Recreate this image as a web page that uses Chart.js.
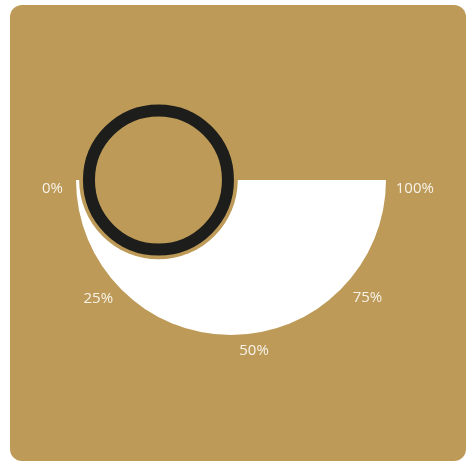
<!DOCTYPE html>
<html>
<head>
<meta charset="utf-8">
<script src="https://cdn.jsdelivr.net/npm/chart.js@4"></script>
<style>
	html, body { margin: 0; padding: 0; background: #fff; }
	#wrap { position: relative; width: 468px; height: 462px; overflow: hidden; }
	#card { position: absolute; left: 10px; top: 5px; width: 456px; height: 456px; background: #bd9a57; border-radius: 12px; }
	#chart { position: absolute; left: 0; top: 0; }
</style>
</head>
<body>
<div id="wrap">
	<div id="card"></div>
	<canvas id="chart" width="468" height="462"></canvas>
</div>
<script>
const gaugeMax = 100;
const gaugeValue = [0];
const tickValues = [0, 25, 50, 75, 100];
const tickLabels = ["0%", "25%", "50%", "75%", "100%"];

const gold = "#bd9a57";

// angle on the lower half: 0 at the left, max at the right
const valueAngle = (v) => Math.PI - (v / gaugeMax) * Math.PI;

const gaugeDecor = {
	id: "gaugeDecor",
	afterDatasetsDraw(chart, args, opts) {
		const arc = chart.getDatasetMeta(0).data[0];
		if (!arc) return;
		const {x, y, outerRadius} = arc.getProps(["x", "y", "outerRadius"], true);
		const ctx = chart.ctx;
		ctx.save();

		// pointer ring
		const a = valueAngle(gaugeValue[0]);
		const px = x + Math.cos(a) * outerRadius * opts.pointerDist;
		const py = y + Math.sin(a) * outerRadius * opts.pointerDist;
		ctx.fillStyle = gold;
		ctx.beginPath();
		ctx.arc(px, py, opts.pointerRadius + opts.pointerHalo, 0, Math.PI * 2);
		ctx.fill();
		ctx.strokeStyle = "#1d1d1b";
		ctx.lineWidth = opts.pointerWidth;
		ctx.beginPath();
		ctx.arc(px, py, opts.pointerRadius - opts.pointerWidth / 2, 0, Math.PI * 2);
		ctx.stroke();

		// tick labels
		ctx.fillStyle = "#f7f2e8";
		ctx.font = "15px 'Open Sans'";
		ctx.textAlign = "center";
		ctx.textBaseline = "middle";
		tickValues.forEach((v, i) => {
			const t = valueAngle(v);
			const n = opts.nudge[i];
			const lx = x + Math.cos(t) * opts.labelRx + n[0];
			const ly = y + 9 + Math.sin(t) * opts.labelRy + n[1];
			ctx.fillText(tickLabels[i], lx, ly);
		});
		ctx.restore();
	}
};

new Chart(document.getElementById("chart"), {
	type: "doughnut",
	data: {
		labels: ["value", "rest"],
		datasets: [{
			data: [gaugeValue[0], gaugeMax - gaugeValue[0]],
			backgroundColor: ["#ffffff", "#ffffff"],
			borderWidth: 0,
		}],
	},
	options: {
		responsive: false,
		animation: false,
		rotation: 90,
		circumference: 180,
		cutout: 0,
		layout: {
			padding: {left: 76, right: 82, top: 180, bottom: 127},
		},
		plugins: {
			legend: {display: false},
			tooltip: {enabled: false},
			gaugeDecor: {
				pointerDist: 0.468,
				pointerRadius: 75.5,
				pointerWidth: 12,
				pointerHalo: 3.8,
				labelRx: 181,
				labelRy: 162,
				nudge: [[2.5, 0], [-4.7, -4.8], [23, 0], [8.5, -5.5], [2.8, 0]],
			},
		},
	},
	plugins: [gaugeDecor],
});
</script>
</body>
</html>
